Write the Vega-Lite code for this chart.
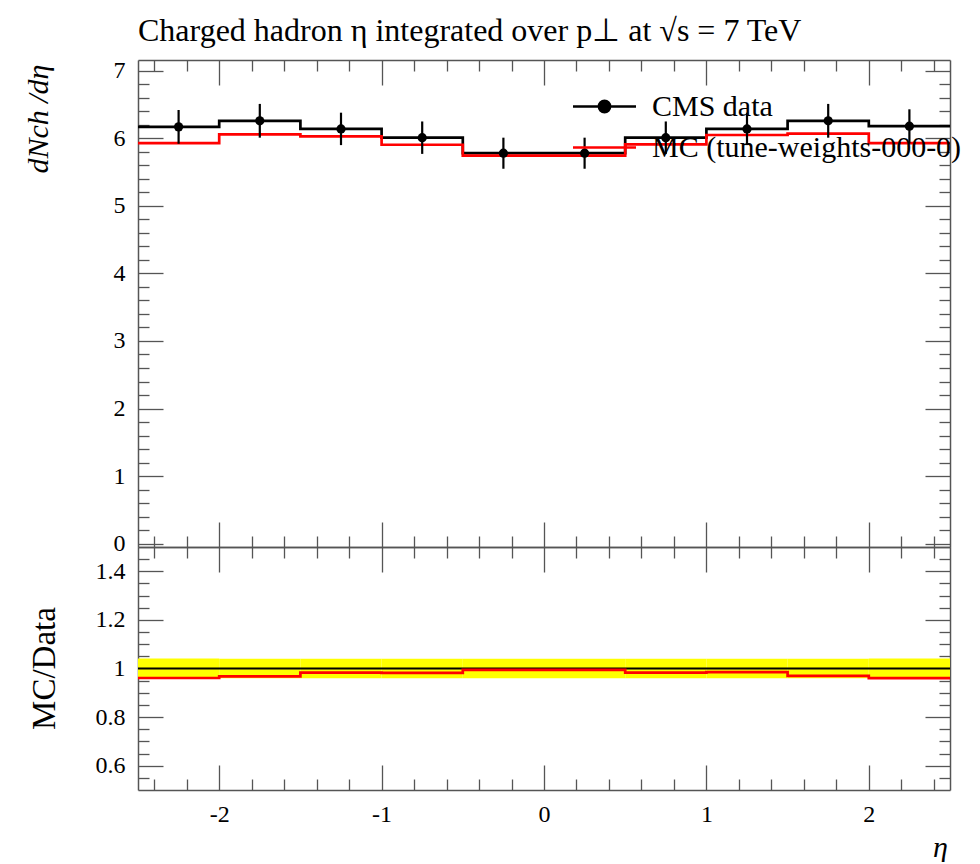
{
  "$schema": "https://vega.github.io/schema/vega-lite/v6.json",
  "padding": {"left": 22, "top": 14, "right": 0, "bottom": 0},
  "spacing": 0,
  "bounds": "flush",
  "background": "white",
  "config": {
    "view": {"stroke": null},
    "axis": {
      "grid": false,
      "domainColor": "#555555",
      "domainWidth": 1.5,
      "tickColor": "#555555",
      "tickWidth": 1.3,
      "labelFont": "Liberation Serif",
      "labelFontSize": 24,
      "labelColor": "#000000",
      "labelOverlap": false,
      "labelFlush": false,
      "labelBound": false,
      "titleFont": "Liberation Serif",
      "titleColor": "#000000",
      "titleFontWeight": "normal",
      "titleFontSize": 30
    }
  },
  "datasets": {
    "steps": [
      {"edge": -2.5, "series": "CMS data", "value": 6.17},
      {"edge": -2.0, "series": "CMS data", "value": 6.26},
      {"edge": -1.5, "series": "CMS data", "value": 6.14},
      {"edge": -1.0, "series": "CMS data", "value": 6.01},
      {"edge": -0.5, "series": "CMS data", "value": 5.78},
      {"edge": 0.0, "series": "CMS data", "value": 5.78},
      {"edge": 0.5, "series": "CMS data", "value": 6.01},
      {"edge": 1.0, "series": "CMS data", "value": 6.14},
      {"edge": 1.5, "series": "CMS data", "value": 6.26},
      {"edge": 2.0, "series": "CMS data", "value": 6.18},
      {"edge": 2.5, "series": "CMS data", "value": 6.18},
      {"edge": -2.5, "series": "MC (tune-weights-000-0)", "value": 5.93},
      {"edge": -2.0, "series": "MC (tune-weights-000-0)", "value": 6.06},
      {"edge": -1.5, "series": "MC (tune-weights-000-0)", "value": 6.03},
      {"edge": -1.0, "series": "MC (tune-weights-000-0)", "value": 5.905},
      {"edge": -0.5, "series": "MC (tune-weights-000-0)", "value": 5.745},
      {"edge": 0.0, "series": "MC (tune-weights-000-0)", "value": 5.745},
      {"edge": 0.5, "series": "MC (tune-weights-000-0)", "value": 5.91},
      {"edge": 1.0, "series": "MC (tune-weights-000-0)", "value": 6.05},
      {"edge": 1.5, "series": "MC (tune-weights-000-0)", "value": 6.07},
      {"edge": 2.0, "series": "MC (tune-weights-000-0)", "value": 5.93},
      {"edge": 2.5, "series": "MC (tune-weights-000-0)", "value": 5.93}
    ],
    "bins": [
      {"eta": -2.25, "lo": -2.5, "hi": -2.0, "data": 6.17, "ylo": 5.92, "yhi": 6.42, "band_lo": 0.959, "band_hi": 1.041},
      {"eta": -1.75, "lo": -2.0, "hi": -1.5, "data": 6.26, "ylo": 6.01, "yhi": 6.51, "band_lo": 0.960, "band_hi": 1.040},
      {"eta": -1.25, "lo": -1.5, "hi": -1.0, "data": 6.14, "ylo": 5.90, "yhi": 6.38, "band_lo": 0.960, "band_hi": 1.040},
      {"eta": -0.75, "lo": -1.0, "hi": -0.5, "data": 6.01, "ylo": 5.77, "yhi": 6.25, "band_lo": 0.960, "band_hi": 1.040},
      {"eta": -0.25, "lo": -0.5, "hi": 0.0, "data": 5.78, "ylo": 5.55, "yhi": 6.01, "band_lo": 0.960, "band_hi": 1.040},
      {"eta": 0.25, "lo": 0.0, "hi": 0.5, "data": 5.78, "ylo": 5.55, "yhi": 6.01, "band_lo": 0.960, "band_hi": 1.040},
      {"eta": 0.75, "lo": 0.5, "hi": 1.0, "data": 6.01, "ylo": 5.77, "yhi": 6.25, "band_lo": 0.960, "band_hi": 1.040},
      {"eta": 1.25, "lo": 1.0, "hi": 1.5, "data": 6.14, "ylo": 5.90, "yhi": 6.38, "band_lo": 0.960, "band_hi": 1.040},
      {"eta": 1.75, "lo": 1.5, "hi": 2.0, "data": 6.26, "ylo": 6.01, "yhi": 6.51, "band_lo": 0.960, "band_hi": 1.040},
      {"eta": 2.25, "lo": 2.0, "hi": 2.5, "data": 6.18, "ylo": 5.93, "yhi": 6.43, "band_lo": 0.959, "band_hi": 1.041}
    ],
    "ratio": [
      {"edge": -2.5, "ratio": 0.961},
      {"edge": -2.0, "ratio": 0.968},
      {"edge": -1.5, "ratio": 0.983},
      {"edge": -1.0, "ratio": 0.982},
      {"edge": -0.5, "ratio": 0.994},
      {"edge": 0.0, "ratio": 0.994},
      {"edge": 0.5, "ratio": 0.983},
      {"edge": 1.0, "ratio": 0.985},
      {"edge": 1.5, "ratio": 0.970},
      {"edge": 2.0, "ratio": 0.960},
      {"edge": 2.5, "ratio": 0.960}
    ],
    "reference": [
      {"ratio": 1}
    ]
  },
  "vconcat": [
    {
      "width": 812,
      "height": 487,
      "title": {
        "text": "Charged hadron η integrated over p⊥ at √s = 7 TeV",
        "anchor": "start",
        "frame": "group",
        "font": "Liberation Serif",
        "fontSize": 32,
        "fontWeight": "normal",
        "color": "#000000",
        "offset": 11
      },
      "layer": [
        {
          "data": {"name": "steps"},
          "mark": {"type": "line", "interpolate": "step-after", "strokeWidth": 2.7},
          "encoding": {
            "x": {
              "field": "edge", "type": "quantitative",
              "scale": {"domain": [-2.5, 2.5], "nice": false, "zero": false},
              "axis": {
                "orient": "bottom", "title": null, "labels": false,
                "values": [-2.4,-2.2,-2,-1.8,-1.6,-1.4,-1.2,-1,-0.8,-0.6,-0.4,-0.2,0,0.2,0.4,0.6,0.8,1,1.2,1.4,1.6,1.8,2,2.2,2.4],
                "tickSize": {"condition": {"test": "abs(datum.value - round(datum.value)) < 0.001", "value": -25}, "value": -11}
              }
            },
            "y": {
              "field": "value", "type": "quantitative",
              "scale": {"domain": [-0.05, 7.16], "nice": false, "zero": false},
              "axis": {
                "orient": "left",
                "values": [0,0.2,0.4,0.6,0.8,1,1.2,1.4,1.6,1.8,2,2.2,2.4,2.6,2.8,3,3.2,3.4,3.6,3.8,4,4.2,4.4,4.6,4.8,5,5.2,5.4,5.6,5.8,6,6.2,6.4,6.6,6.8,7],
                "tickSize": {"condition": {"test": "abs(datum.value - round(datum.value)) < 0.001", "value": -25}, "value": -11},
                "labelExpr": "abs(datum.value - round(datum.value)) < 0.001 ? toString(datum.value) : ''",
                "labelPadding": 38,
                "title": "dNch /dη",
                "titleFontStyle": "italic",
                "titleAngle": -90,
                "titleAlign": "right",
                "titleBaseline": "alphabetic",
                "titleX": -91,
                "titleY": 4
              }
            },
            "color": {
              "field": "series", "type": "nominal",
              "scale": {"domain": ["CMS data", "MC (tune-weights-000-0)"], "range": ["#000000", "#ff0000"]},
              "legend": {
                "orient": "none",
                "legendX": 450,
                "legendY": 30,
                "title": null,
                "padding": 0,
                "labelFont": "Liberation Serif",
                "labelFontSize": 30,
                "labelColor": "#000000",
                "labelLimit": 1000,
                "labelOffset": 31,
                "symbolSize": 900,
                "symbolStrokeWidth": 2.7,
                "symbolType": "M-2.1,0H2.1",
                "rowPadding": 9,
                "encode": {
                  "symbols": {
                    "update": {
                      "shape": {"signal": "datum.value === 'CMS data' ? 'M-2.1,0H2.1M-0.37,0A0.37,0.37 0 1,0 0.37,0A0.37,0.37 0 1,0 -0.37,0' : 'M-2.1,0H2.1'"},
                      "fill": {"signal": "datum.value === 'CMS data' ? '#000000' : 'transparent'"}
                    }
                  }
                }
              }
            }
          }
        },
        {
          "data": {"name": "bins"},
          "mark": {"type": "rule", "color": "#000000", "strokeWidth": 2.2},
          "encoding": {
            "x": {
              "field": "eta", "type": "quantitative",
              "axis": {
                "orient": "top", "title": null, "labels": false,
                "values": [-2.4,-2.2,-2,-1.8,-1.6,-1.4,-1.2,-1,-0.8,-0.6,-0.4,-0.2,0,0.2,0.4,0.6,0.8,1,1.2,1.4,1.6,1.8,2,2.2,2.4],
                "tickSize": {"condition": {"test": "abs(datum.value - round(datum.value)) < 0.001", "value": -25}, "value": -11}
              }
            },
            "y": {
              "field": "ylo", "type": "quantitative",
              "axis": {
                "orient": "right", "title": null, "labels": false,
                "values": [0,0.2,0.4,0.6,0.8,1,1.2,1.4,1.6,1.8,2,2.2,2.4,2.6,2.8,3,3.2,3.4,3.6,3.8,4,4.2,4.4,4.6,4.8,5,5.2,5.4,5.6,5.8,6,6.2,6.4,6.6,6.8,7],
                "tickSize": {"condition": {"test": "abs(datum.value - round(datum.value)) < 0.001", "value": -25}, "value": -11}
              }
            },
            "y2": {"field": "yhi"}
          }
        },
        {
          "data": {"name": "bins"},
          "mark": {"type": "circle", "color": "#000000", "opacity": 1, "size": 85},
          "encoding": {
            "x": {"field": "eta", "type": "quantitative", "axis": null},
            "y": {"field": "data", "type": "quantitative", "axis": null}
          }
        }
      ],
      "resolve": {"axis": {"x": "independent", "y": "independent"}}
    },
    {
      "width": 812,
      "height": 243,
      "layer": [
        {
          "data": {"name": "bins"},
          "mark": {"type": "rect", "color": "#ffff00", "opacity": 1},
          "encoding": {
            "x": {
              "field": "lo", "type": "quantitative",
              "scale": {"domain": [-2.5, 2.5], "nice": false, "zero": false},
              "axis": {
                "orient": "bottom",
                "values": [-2.4,-2.2,-2,-1.8,-1.6,-1.4,-1.2,-1,-0.8,-0.6,-0.4,-0.2,0,0.2,0.4,0.6,0.8,1,1.2,1.4,1.6,1.8,2,2.2,2.4],
                "tickSize": {"condition": {"test": "abs(datum.value - round(datum.value)) < 0.001", "value": -25}, "value": -11},
                "labelExpr": "abs(datum.value - round(datum.value)) < 0.001 ? toString(datum.value) : ''",
                "labelBaseline": "alphabetic",
                "labelPadding": 56,
                "title": "η",
                "titleFontStyle": "italic",
                "titleAlign": "center",
                "titleBaseline": "alphabetic",
                "titleX": 802,
                "titleY": 66
              }
            },
            "x2": {"field": "hi"},
            "y": {
              "field": "band_lo", "type": "quantitative",
              "scale": {"domain": [0.5, 1.5], "nice": false, "zero": false},
              "axis": {
                "orient": "left",
                "values": [0.55,0.6,0.65,0.7,0.75,0.8,0.85,0.9,0.95,1,1.05,1.1,1.15,1.2,1.25,1.3,1.35,1.4,1.45],
                "tickSize": {"condition": {"test": "abs(datum.value * 5 - round(datum.value * 5)) < 0.001", "value": -25}, "value": -11},
                "labelExpr": "abs(datum.value * 5 - round(datum.value * 5)) < 0.001 ? toString(datum.value) : ''",
                "labelPadding": 38,
                "title": "MC/Data",
                "titleFontSize": 33,
                "titleAngle": -90,
                "titleAlign": "center",
                "titleBaseline": "alphabetic",
                "titleX": -84,
                "titleY": 121
              }
            },
            "y2": {"field": "band_hi"}
          }
        },
        {
          "data": {"name": "reference"},
          "mark": {"type": "rule", "color": "#000000", "strokeWidth": 2},
          "encoding": {
            "y": {"field": "ratio", "type": "quantitative", "axis": null}
          }
        },
        {
          "data": {"name": "ratio"},
          "mark": {"type": "line", "interpolate": "step-after", "color": "#ff0000", "strokeWidth": 2.7},
          "encoding": {
            "x": {
              "field": "edge", "type": "quantitative",
              "axis": {
                "orient": "top", "title": null, "labels": false,
                "values": [-2.4,-2.2,-2,-1.8,-1.6,-1.4,-1.2,-1,-0.8,-0.6,-0.4,-0.2,0,0.2,0.4,0.6,0.8,1,1.2,1.4,1.6,1.8,2,2.2,2.4],
                "tickSize": {"condition": {"test": "abs(datum.value - round(datum.value)) < 0.001", "value": -25}, "value": -11}
              }
            },
            "y": {
              "field": "ratio", "type": "quantitative",
              "axis": {
                "orient": "right", "title": null, "labels": false,
                "values": [0.55,0.6,0.65,0.7,0.75,0.8,0.85,0.9,0.95,1,1.05,1.1,1.15,1.2,1.25,1.3,1.35,1.4,1.45],
                "tickSize": {"condition": {"test": "abs(datum.value * 5 - round(datum.value * 5)) < 0.001", "value": -25}, "value": -11}
              }
            }
          }
        }
      ],
      "resolve": {"axis": {"x": "independent", "y": "independent"}}
    }
  ]
}
